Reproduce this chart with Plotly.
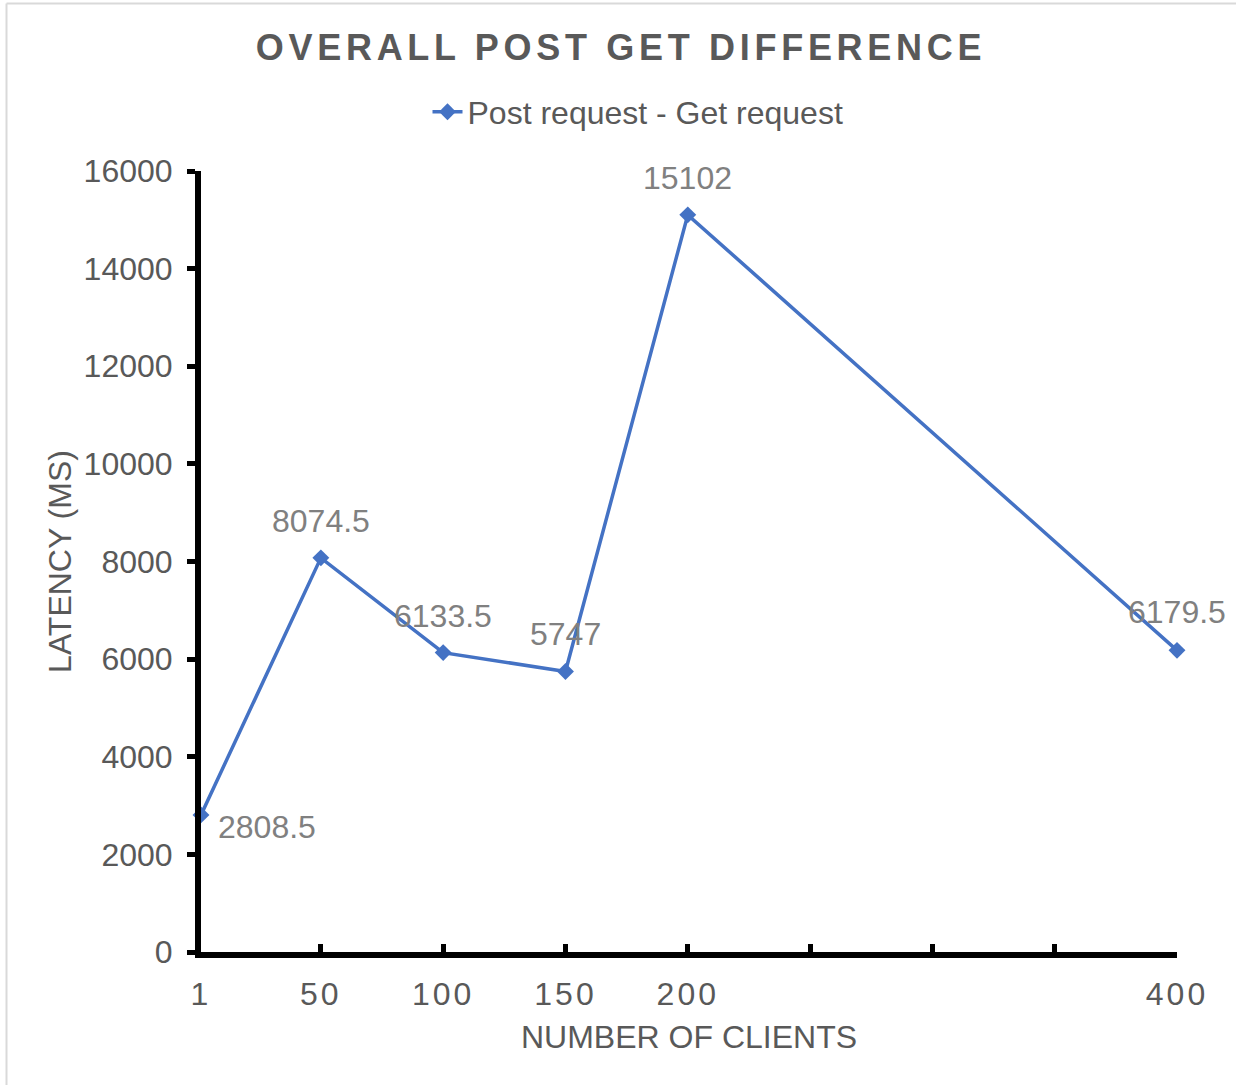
import plotly.graph_objects as go

# ---- data ----
clients = [1, 50, 100, 150, 200, 400]
latency_diff = [2808.5, 8074.5, 6133.5, 5747, 15102, 6179.5]
x_tick_vals = [1, 50, 100, 150, 200, 250, 300, 350, 400]
x_tick_text = ["1", "50", "100", "150", "200", "", "", "", "400"]
y_tick_vals = [0, 2000, 4000, 6000, 8000, 10000, 12000, 14000, 16000]
series_name = "Post request - Get request"

FONT = "Arial, Liberation Sans, sans-serif"
DARK = "#595959"
LABEL = "#808080"
BLUE = "#4472C4"
FS = 32

fig = go.Figure()
fig.add_trace(go.Scatter(
    x=clients, y=latency_diff, mode="lines+markers", name=series_name,
    line=dict(color=BLUE, width=3.5),
    marker=dict(symbol="diamond", size=13, color=BLUE),
    cliponaxis=False,
))

# data labels (offsets in px relative to each point)
offsets = [(66, -12), (0, 37), (0, 37), (0, 37), (0, 37), (0, 38)]
for xv, yv, (dx, dy) in zip(clients, latency_diff, offsets):
    fig.add_annotation(
        x=xv, y=yv, xref="x", yref="y", text=f"{yv:g}", showarrow=False,
        xshift=dx, yshift=dy, font=dict(family=FONT, size=FS, color=LABEL),
    )

spaced = lambda t, s: f'<span style="letter-spacing:{s}px">{t}</span>' if t else ""

fig.update_layout(
    width=1236, height=1085,
    margin=dict(l=201, r=59, t=171, b=133, autoexpand=False),
    paper_bgcolor="white", plot_bgcolor="white",
    font=dict(family=FONT, size=FS, color=DARK),
    title=dict(
        text=spaced("OVERALL POST GET DIFFERENCE", 4.7),
        x=(621 / 1236), xref="container", xanchor="center",
        y=1 - 47 / 1085, yref="container", yanchor="middle",
        font=dict(family=FONT, size=36, color=DARK, weight="bold"),
    ),
    showlegend=True,
    legend=dict(
        orientation="h", x=(638 - 201) / 976, xanchor="center",
        y=(952 - 112) / 781, yanchor="middle",
        font=dict(family=FONT, size=FS, color=DARK),
        bgcolor="rgba(0,0,0,0)",
    ),
    xaxis=dict(
        range=[1, 400], tickmode="array", tickvals=x_tick_vals,
        ticktext=[spaced(t, 3) for t in x_tick_text],
        showgrid=False, zeroline=False,
        showline=True, linecolor="black", linewidth=6,
        ticks="inside", ticklen=8, tickwidth=5, tickcolor="black",
        tickfont=dict(family=FONT, size=FS, color=DARK),
        ticklabelstandoff=9,
        title=dict(text="NUMBER OF CLIENTS", standoff=16,
                   font=dict(family=FONT, size=FS, color=DARK)),
        automargin=False,
    ),
    yaxis=dict(
        range=[0, 16000], tickmode="array", tickvals=y_tick_vals,
        tickformat="d",
        showgrid=False, zeroline=False,
        showline=True, linecolor="black", linewidth=6,
        ticks="outside", ticklen=8, tickwidth=5, tickcolor="black",
        tickfont=dict(family=FONT, size=FS, color=DARK),
        ticklabelstandoff=8,
        title=dict(text="LATENCY (MS)", standoff=4,
                   font=dict(family=FONT, size=FS, color=DARK)),
        automargin=False,
    ),
)

# light chart-area border (left and top edges visible in reference)
fig.add_shape(type="line", xref="paper", yref="paper",
              x0=(6.5 - 201) / 976, x1=(6.5 - 201) / 976,
              y0=(952 - 1100) / 781, y1=(952 - 3.5) / 781,
              line=dict(color="#d9d9d9", width=2), layer="below")
fig.add_shape(type="line", xref="paper", yref="paper",
              x0=(6.5 - 201) / 976, x1=(1250 - 201) / 976,
              y0=(952 - 3.5) / 781, y1=(952 - 3.5) / 781,
              line=dict(color="#d9d9d9", width=2), layer="below")

fig.write_html("out.html",
               config={"displayModeBar": False},
               post_script="document.body.style.margin='0px';document.body.style.overflow='hidden';")
